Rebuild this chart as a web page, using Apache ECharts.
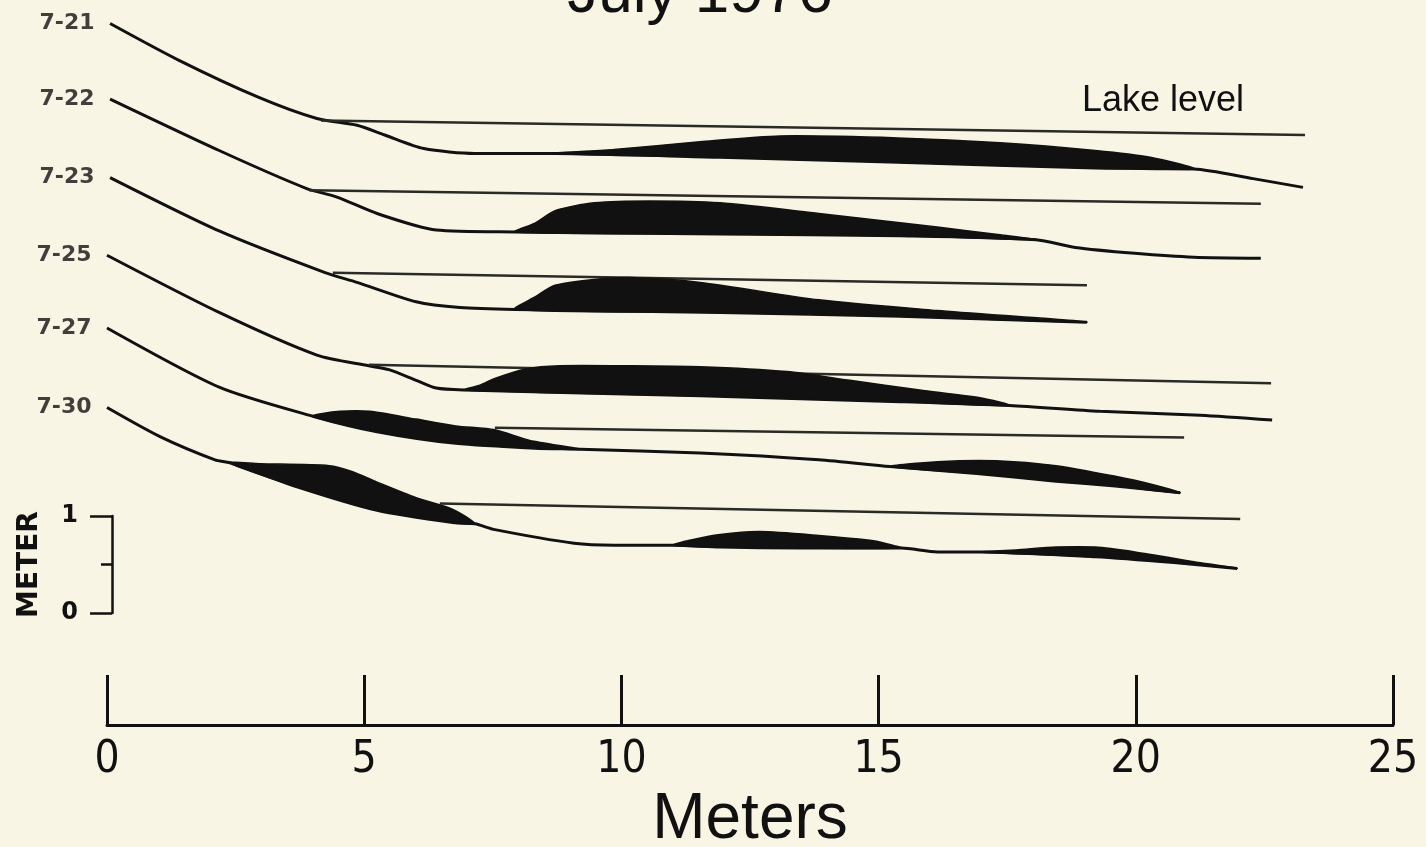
<!DOCTYPE html>
<html>
<head>
<meta charset="utf-8">
<title>July 1976</title>
<script src="https://cdn.jsdelivr.net/npm/echarts@6/dist/echarts.min.js"></script>
<style>
  html, body { margin: 0; padding: 0; background: #f9f5e4; }
  #chart { width: 1426px; height: 847px; }
</style>
</head>
<body>
<div id="chart"></div>
<script>
// dates of the survey profiles, top to bottom
const dates = ['7-21', '7-22', '7-23', '7-25', '7-27', '7-30']
const xTicks = [0, 5, 10, 15, 20, 25]

// profile lines: [distance (m), plotted elevation (m)], each date stacked up the page
const prof721 = [[0.06, 6.08], [1.40, 5.70], [2.94, 5.32], [4.08, 5.10], [4.86, 5.03], [5.40, 4.93], [6.16, 4.79], [7.15, 4.74], [8.71, 4.74], [11.92, 4.70], [15.38, 4.65], [19.21, 4.59], [21.13, 4.58], [22.28, 4.48], [23.25, 4.39]]
const prof722 = [[0.06, 5.30], [2.18, 4.77], [3.87, 4.38], [4.47, 4.29], [5.25, 4.12], [6.40, 3.95], [7.93, 3.93], [11.92, 3.91], [15.42, 3.89], [18.06, 3.85], [18.82, 3.77], [19.98, 3.71], [21.13, 3.67], [22.43, 3.66]]
const prof723 = [[0.06, 4.49], [2.18, 3.94], [4.24, 3.51], [4.86, 3.41], [6.01, 3.21], [6.86, 3.15], [7.93, 3.13], [11.92, 3.10], [15.42, 3.06], [19.05, 3.00]]
const prof725 = [[0, 3.69], [2.18, 3.10], [4.08, 2.66], [5.09, 2.55], [5.48, 2.51], [6.01, 2.40], [6.40, 2.32], [6.94, 2.30], [11.53, 2.24], [15.42, 2.18], [17.55, 2.14], [19.30, 2.08], [21.25, 2.04], [22.65, 1.99]]
const prof727 = [[0, 2.94], [2.18, 2.33], [4.00, 2.03], [5.25, 1.87], [6.78, 1.75], [8.32, 1.70], [9.20, 1.69], [11.53, 1.65], [13.84, 1.58], [15.22, 1.51], [16.91, 1.44], [18.45, 1.36], [19.60, 1.31], [20.86, 1.24]]
const prof730 = [[0, 2.12], [1.03, 1.82], [2.10, 1.58], [2.39, 1.55], [3.71, 1.30], [5.25, 1.06], [6.78, 0.93], [7.15, 0.92], [7.54, 0.86], [9.08, 0.72], [9.86, 0.70], [11.00, 0.70], [11.92, 0.68], [13.47, 0.67], [15.44, 0.67], [16.14, 0.63], [16.97, 0.63], [19.21, 0.58], [20.74, 0.52], [21.97, 0.46]]

// lake level for each profile (shore end, lake end)
const lake721 = [[4.16, 5.08], [23.29, 4.93]]
const lake722 = [[3.93, 4.36], [22.43, 4.22]]
const lake723 = [[4.39, 3.51], [19.05, 3.38]]
const lake725 = [[5.09, 2.56], [22.63, 2.37]]
const lake727 = [[7.54, 1.91], [20.94, 1.81]]
const lake730 = [[6.47, 1.13], [22.03, 0.97]]

// sand bars (black): top edge and bottom edge
const bar721Top = [[8.71, 4.74], [9.86, 4.78], [11.53, 4.86], [13.08, 4.92], [15.38, 4.90], [17.36, 4.85], [19.21, 4.77], [20.28, 4.70], [21.13, 4.58]]
const bar721Bot = [[8.71, 4.74], [11.92, 4.70], [15.38, 4.65], [19.21, 4.59], [21.13, 4.58]]
const bar722Top = [[7.93, 3.93], [8.32, 4.02], [8.71, 4.15], [9.47, 4.23], [10.56, 4.25], [11.92, 4.23], [13.84, 4.12], [16.14, 3.98], [17.36, 3.90], [18.06, 3.85]]
const bar722Bot = [[7.93, 3.93], [11.92, 3.91], [15.42, 3.89], [18.06, 3.85]]
const bar723Top = [[7.93, 3.13], [8.32, 3.26], [8.71, 3.38], [9.47, 3.44], [10.17, 3.46], [11.53, 3.41], [13.84, 3.23], [16.14, 3.12], [19.05, 3.00]]
const bar723Bot = [[7.93, 3.13], [11.92, 3.10], [15.42, 3.06], [19.05, 3.00]]
const bar725Top = [[6.94, 2.30], [7.25, 2.35], [7.54, 2.42], [8.16, 2.52], [8.81, 2.55], [9.97, 2.55], [11.53, 2.54], [13.22, 2.49], [14.44, 2.40], [15.80, 2.30], [16.97, 2.22], [17.55, 2.14]]
const bar725Bot = [[6.94, 2.30], [11.53, 2.24], [15.42, 2.18], [17.55, 2.14]]
const bar727aTop = [[4.00, 2.03], [4.53, 2.08], [5.11, 2.08], [6.01, 2.00], [6.78, 1.93], [7.54, 1.89], [8.22, 1.78], [9.20, 1.69]]
const bar727aBot = [[4.00, 2.03], [5.25, 1.87], [6.78, 1.75], [8.32, 1.70], [9.20, 1.69]]
const bar727bTop = [[15.22, 1.51], [16.14, 1.56], [17.28, 1.57], [18.45, 1.52], [19.60, 1.41], [20.28, 1.33], [20.86, 1.24]]
const bar727bBot = [[15.22, 1.51], [16.91, 1.44], [18.45, 1.36], [19.60, 1.31], [20.86, 1.24]]
const bar730aTop = [[2.39, 1.55], [2.97, 1.54], [4.32, 1.52], [4.76, 1.46], [5.25, 1.35], [6.01, 1.19], [6.63, 1.09], [6.96, 1.00], [7.15, 0.92]]
const bar730aBot = [[2.39, 1.55], [3.71, 1.30], [5.25, 1.06], [6.78, 0.93], [7.15, 0.92]]
const bar730bTop = [[11.00, 0.70], [11.33, 0.75], [11.92, 0.81], [12.69, 0.84], [13.84, 0.80], [14.83, 0.75], [15.12, 0.72], [15.44, 0.67]]
const bar730bBot = [[11.00, 0.70], [11.92, 0.68], [13.47, 0.67], [15.44, 0.67]]
const bar730cTop = [[16.97, 0.63], [17.67, 0.65], [18.45, 0.68], [19.21, 0.68], [19.98, 0.63], [21.13, 0.53], [21.97, 0.46]]
const bar730cBot = [[16.97, 0.63], [19.21, 0.58], [20.74, 0.52], [21.97, 0.46]]

const profiles = [prof721, prof722, prof723, prof725, prof727, prof730]
const lakes = [lake721, lake722, lake723, lake725, lake727, lake730]
const bars = [
  [bar721Top, bar721Bot], [bar722Top, bar722Bot], [bar723Top, bar723Bot], [bar725Top, bar725Bot],
  [bar727aTop, bar727aBot], [bar727bTop, bar727bBot],
  [bar730aTop, bar730aBot], [bar730bTop, bar730bBot], [bar730cTop, bar730cBot]
]

const ink = '#111'
const chart = echarts.init(document.getElementById('chart'))

// black fill between top and bottom edge of a bar
function barSeries (top, bot) {
  return {
    type: 'custom',
    xAxisIndex: 0,
    yAxisIndex: 0,
    data: top,
    encode: { x: 0, y: 1 },
    silent: true,
    z: 3,
    renderItem: function (params, api) {
      if (params.dataIndex !== 0) return
      const outline = top.concat(bot.slice(1, -1).reverse()).map(p => api.coord(p))
      return {
        type: 'polygon',
        shape: { points: outline, smooth: 0.25 },
        style: { fill: ink, stroke: ink, lineWidth: 1.5 }
      }
    }
  }
}

let series = []
profiles.forEach(function (p) {
  series.push({
    type: 'line',
    data: p,
    symbol: 'none',
    smooth: 0.25,
    lineStyle: { color: ink, width: 3 },
    z: 2
  })
})
lakes.forEach(function (l) {
  series.push({
    type: 'line',
    data: l,
    symbol: 'none',
    lineStyle: { color: '#2a2a26', width: 2.5 },
    z: 2
  })
})
bars.forEach(function (b) {
  series.push(barSeries(b[0], b[1]))
})
// date labels at the landward end of each profile
series.push({
  type: 'scatter',
  data: profiles.map(p => p[0]),
  symbolSize: 1,
  itemStyle: { color: 'rgba(0,0,0,0)' },
  silent: true,
  label: {
    show: true,
    position: 'left',
    distance: 15,
    formatter: function (d) { return dates[d.dataIndex] },
    color: ink,
    fontFamily: 'DejaVu Sans',
    fontWeight: 'bold',
    fontSize: 22
  }
})

chart.setOption({
  backgroundColor: '#f9f5e4',
  animation: false,
  grid: [
    { left: 107, right: 33, top: 7, bottom: 137, outerBoundsMode: 'none', containLabel: false },
    // vertical scale bar
    { left: 112, top: 516, width: 10, height: 97, outerBoundsMode: 'none', containLabel: false }
  ],
  xAxis: [
    {
      type: 'value',
      gridIndex: 0,
      min: 0,
      max: 25,
      interval: 5,
      offset: 15,
      axisLine: { show: true, onZero: false, lineStyle: { color: ink, width: 3 } },
      axisTick: { show: true, inside: true, length: 50, lineStyle: { color: ink, width: 3 } },
      axisLabel: {
        margin: 14,
        color: ink,
        fontSize: 44,
        fontFamily: '"Liberation Sans Narrow", "DejaVu Sans Condensed", sans-serif',
        formatter: function (v) { return xTicks.indexOf(v) >= 0 ? String(v) : '' }
      },
      splitLine: { show: false },
      name: 'Meters',
      nameLocation: 'middle',
      nameGap: 56,
      nameTextStyle: { color: ink, fontSize: 64, fontFamily: '"Liberation Sans", Arial, sans-serif' }
    },
    { type: 'value', gridIndex: 1, min: 0, max: 1, show: false }
  ],
  yAxis: [
    { type: 'value', gridIndex: 0, min: -1, max: 6.25, show: false },
    {
      type: 'value',
      gridIndex: 1,
      min: 0,
      max: 1,
      interval: 1,
      axisLine: { show: true, lineStyle: { color: ink, width: 2.5 } },
      axisTick: { show: true, length: 22, lineStyle: { color: ink, width: 2.5 } },
      minorTick: { show: true, splitNumber: 2, length: 11, lineStyle: { color: ink, width: 2.5 } },
      splitLine: { show: false },
      axisLabel: { margin: 34, color: ink, fontSize: 24, fontWeight: 'bold', fontFamily: 'DejaVu Sans' },
      name: 'METER',
      nameLocation: 'middle',
      nameRotate: 90,
      nameGap: 68,
      nameTextStyle: { color: ink, fontSize: 28, fontWeight: 'bold', fontFamily: 'DejaVu Sans' }
    }
  ],
  graphic: [
    {
      type: 'text',
      x: 700,
      y: -5,
      style: { text: 'July 1976', align: 'center', verticalAlign: 'middle', fill: ink, font: '62px "Liberation Sans", Arial, sans-serif' }
    },
    {
      type: 'text',
      x: 1163,
      y: 101,
      style: { text: 'Lake level', align: 'center', verticalAlign: 'middle', fill: ink, font: '36px "Liberation Sans", Arial, sans-serif' }
    }
  ],
  series: series
})
</script>
</body>
</html>
